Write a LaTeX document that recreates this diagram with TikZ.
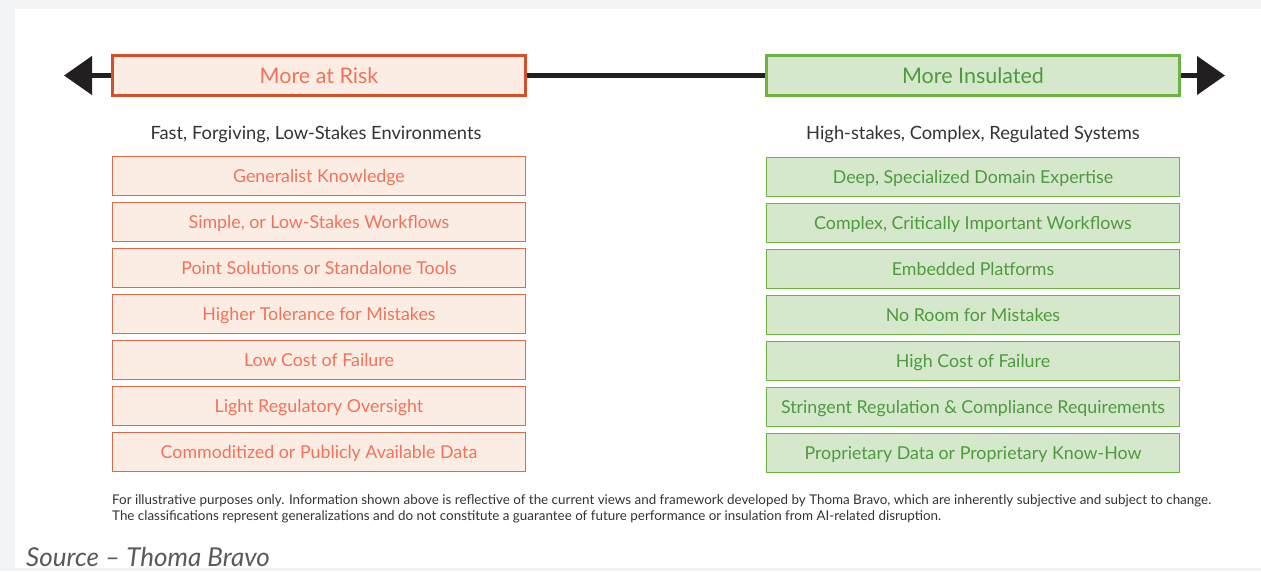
\documentclass[tikz,border=0pt]{standalone}
\usepackage{fontspec}
\setmainfont{Lato}
\usetikzlibrary{arrows.meta}

\definecolor{pagegray}{HTML}{F3F4F6}
\definecolor{axisblack}{HTML}{231F20}
\definecolor{riskdraw}{HTML}{D4502B}
\definecolor{riskedge}{HTML}{E0694A}
\definecolor{riskfill}{HTML}{FBEDE3}
\definecolor{risktext}{HTML}{F2735A}
\definecolor{safedraw}{HTML}{6DB344}
\definecolor{safefill}{HTML}{D5E8CB}
\definecolor{safetext}{HTML}{4E9A3E}
\definecolor{bodytext}{HTML}{333333}
\definecolor{sourcetext}{HTML}{5A5A5A}

\begin{document}
\begin{tikzpicture}[x=1pt, y=-1pt,
    header/.style={draw, line width=3pt, minimum width=413pt, minimum height=40pt,
      inner sep=0pt, font=\fontsize{21.5}{25}\selectfont},
    itembox/.style={draw, line width=1.6pt, minimum width=413pt, minimum height=39pt,
      inner sep=0pt, text height=14pt, text depth=2pt,
      font=\fontsize{17.8}{21}\selectfont},
    riskcol/.style={fill=riskfill, text=risktext},
    safecol/.style={fill=safefill, text=safetext},
    axis/.style={draw=axisblack, line width=4.5pt,
      -{Triangle[length=28pt, width=38pt]}},
    subhead/.style={text=bodytext, font=\fontsize{18.3}{22}\selectfont}
  ]
  % page and card
  \fill[pagegray] (0,0) rectangle (1261,571);
  \fill[white] (15,9) rectangle (1261,568);
  \useasboundingbox (0,0) rectangle (1261,571);

  % the two ends of the scale
  \node[header, riskcol, draw=riskdraw] (risk) at (319,75.5) {More at Risk};
  \node[header, safecol, draw=safedraw] (safe) at (973,75.5) {More Insulated};
  \coordinate (lefttip) at (64,75.5);
  \coordinate (righttip) at (1225,75.5);

  \draw[axis] (risk.west) -- (lefttip);
  \draw[axis] (safe.east) -- (righttip);
  \draw[draw=axisblack, line width=4.5pt] (risk.east) -- (safe.west);

  \node[subhead] (riskhead) at (316,134) {Fast, Forgiving, Low-Stakes Environments};
  \node[subhead] (safehead) at (973,134) {High-stakes, Complex, Regulated Systems};

  % left column
  \foreach \txt [count=\i] in {Generalist Knowledge, {Simple, or Low-Stakes Workflows},
      Point Solutions or Standalone Tools, Higher Tolerance for Mistakes,
      Low Cost of Failure, Light Regulatory Oversight,
      Commoditized or Publicly Available Data}
    \node[itembox, riskcol, draw=riskedge] (r\i) at (319,176+46*\i-46) {\txt};

  % right column
  \foreach \txt [count=\i] in {{Deep, Specialized Domain Expertise},
      {Complex, Critically Important Workflows}, Embedded Platforms,
      No Room for Mistakes, High Cost of Failure,
      Stringent Regulation \& Compliance Requirements,
      Proprietary Data or Proprietary Know-How}
    \node[itembox, safecol, draw=safedraw] (s\i) at (973,177+46*\i-46) {\txt};

  % footnote
  \node[anchor=north west, align=left, inner sep=0pt, text=bodytext,
    font=\fontsize{13.4}{16.5}\selectfont] (note) at (112,494)
    {For illustrative purposes only. Information shown above is reflective of the current views and framework developed by Thoma Bravo, which are inherently subjective and subject to change.\\
     The classifications represent generalizations and do not constitute a guarantee of future performance or insulation from AI-related disruption.};

  \node[anchor=base west, inner sep=0pt, text=sourcetext,
    font=\fontsize{26}{30}\selectfont\itshape] (source) at (26,566) {Source -- Thoma Bravo};
\end{tikzpicture}
\end{document}
